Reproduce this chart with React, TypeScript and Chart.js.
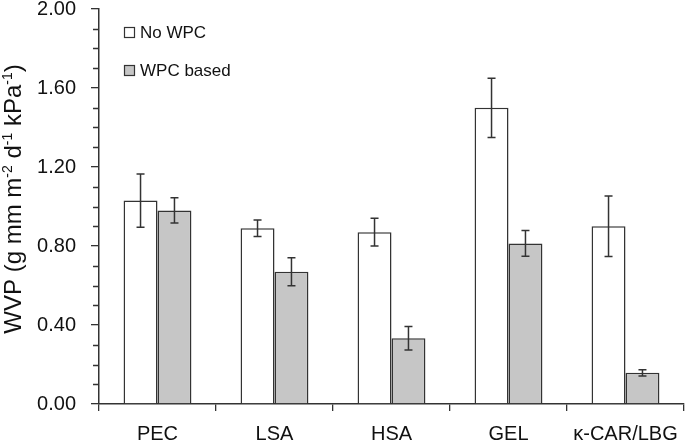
import React, { useEffect, useRef } from 'react';
import { Chart, registerables } from 'chart.js';

Chart.register(...registerables);

const categories = ['PEC', 'LSA', 'HSA', 'GEL', 'κ-CAR/LBG'];
const noWpcValues = [1.03, 0.89, 0.87, 1.5, 0.9];
const noWpcErrors = [0.135, 0.042, 0.07, 0.15, 0.153];
const wpcValues = [0.98, 0.67, 0.333, 0.813, 0.158];
const wpcErrors = [0.064, 0.071, 0.06, 0.065, 0.016];
const seriesNames = ['No WPC', 'WPC based'];
const yMin = 0;
const yMax = 2;
const yMajorStep = 0.4;
const yMinorStep = 0.1;

const FONT = '"Liberation Sans", Arial, Helvetica, sans-serif';
const INK = '#333333';

const errorBarPlugin = {
  id: 'errorBars',
  afterDatasetsDraw(chart: any) {
    const ctx = chart.ctx;
    const ys = chart.scales.y;
    chart.data.datasets.forEach((ds: any, i: number) => {
      const meta = chart.getDatasetMeta(i);
      meta.data.forEach((bar: any, j: number) => {
        const v = ds.data[j];
        const e = ds.errors[j];
        const x = bar.x;
        const yt = ys.getPixelForValue(v + e);
        const yb = ys.getPixelForValue(v - e);
        ctx.save();
        ctx.strokeStyle = INK;
        ctx.lineWidth = 1.5;
        ctx.beginPath();
        ctx.moveTo(x, yt);
        ctx.lineTo(x, yb);
        ctx.moveTo(x - 4, yt);
        ctx.lineTo(x + 4, yt);
        ctx.moveTo(x - 4, yb);
        ctx.lineTo(x + 4, yb);
        ctx.stroke();
        ctx.restore();
      });
    });
  },
};

const minorTickPlugin = {
  id: 'minorTicks',
  afterDraw(chart: any) {
    const ctx = chart.ctx;
    const ys = chart.scales.y;
    const x0 = chart.chartArea.left;
    ctx.save();
    ctx.strokeStyle = INK;
    ctx.lineWidth = 1.3;
    ctx.beginPath();
    const n = Math.round((yMax - yMin) / yMinorStep);
    for (let k = 0; k <= n; k++) {
      const v = yMin + k * yMinorStep;
      if (Math.abs(v / yMajorStep - Math.round(v / yMajorStep)) < 1e-6) continue;
      const y = Math.round(ys.getPixelForValue(v)) + 0.5;
      ctx.moveTo(x0 - 6, y);
      ctx.lineTo(x0, y);
    }
    ctx.stroke();
    ctx.restore();
  },
};

const legendPlugin = {
  id: 'customLegend',
  afterDraw(chart: any) {
    const ctx = chart.ctx;
    const items = chart.data.datasets.map((ds: any) => ({ label: ds.label, fill: ds.backgroundColor }));
    const bx = 124.5;
    const tops = [27.5, 65.5];
    ctx.save();
    ctx.font = `17px ${FONT}`;
    ctx.textBaseline = 'middle';
    items.forEach((it: any, i: number) => {
      ctx.fillStyle = it.fill;
      ctx.fillRect(bx, tops[i], 10, 10);
      ctx.strokeStyle = INK;
      ctx.lineWidth = 1.2;
      ctx.strokeRect(bx, tops[i], 10, 10);
      ctx.fillStyle = '#111';
      ctx.fillText(it.label, 140, tops[i] + 5.5);
    });
    ctx.restore();
  },
};

const yTitlePlugin = {
  id: 'yTitle',
  afterDraw(chart: any) {
    const ctx = chart.ctx;
    const main = 24;
    const sup = 14;
    const parts: [string, boolean][] = [
      ['WVP (g mm m', false],
      ['-2', true],
      [' d', false],
      ['-1', true],
      [' kPa', false],
      ['-1', true],
      [')', false],
    ];
    ctx.save();
    let total = 0;
    parts.forEach(([t, s]) => {
      ctx.font = `${s ? sup : main}px ${FONT}`;
      total += ctx.measureText(t).width;
    });
    const cx = 21;
    const cy = 199;
    ctx.translate(cx, cy);
    ctx.rotate(-Math.PI / 2);
    ctx.fillStyle = '#111';
    ctx.textBaseline = 'alphabetic';
    let x = -total / 2;
    parts.forEach(([t, s]) => {
      ctx.font = `${s ? sup : main}px ${FONT}`;
      ctx.fillText(t, x, s ? -9 : 0);
      x += ctx.measureText(t).width;
    });
    ctx.restore();
  },
};

export default function App() {
  const ref = useRef<HTMLCanvasElement | null>(null);

  useEffect(() => {
    document.body.style.margin = '0';
    const canvas = ref.current;
    if (!canvas) return;
    const chart = new Chart(canvas, {
      type: 'bar',
      data: {
        labels: categories,
        datasets: [
          {
            label: seriesNames[0],
            data: noWpcValues,
            errors: noWpcErrors,
            backgroundColor: '#ffffff',
            borderColor: INK,
            borderWidth: 1.5,
            barPercentage: 1,
            categoryPercentage: 0.58,
          } as any,
          {
            label: seriesNames[1],
            data: wpcValues,
            errors: wpcErrors,
            backgroundColor: '#c6c6c6',
            borderColor: INK,
            borderWidth: 1.5,
            barPercentage: 1,
            categoryPercentage: 0.58,
          } as any,
        ],
      },
      options: {
        animation: false,
        responsive: false,
        maintainAspectRatio: false,
        layout: { padding: { top: 9, right: 1, left: 0, bottom: 0 } },
        plugins: {
          legend: { display: false },
          tooltip: { enabled: false },
          title: { display: false },
        },
        scales: {
          x: {
            offset: true,
            afterFit: (s: any) => {
              s.height = 43;
              s.paddingLeft = 0;
              s.paddingRight = 0;
            },
            grid: {
              offset: true,
              drawOnChartArea: false,
              drawTicks: true,
              tickLength: 7,
              color: INK,
              lineWidth: 1.3,
            },
            border: { display: true, color: INK, width: 1.5 },
            ticks: {
              color: '#111',
              font: { family: FONT, size: 20 },
              padding: 11,
              maxRotation: 0,
              autoSkip: false,
            },
          },
          y: {
            min: yMin,
            max: yMax,
            afterFit: (s: any) => {
              s.width = 99;
              s.paddingTop = 0;
              s.paddingBottom = 0;
            },
            grid: {
              drawOnChartArea: false,
              drawTicks: true,
              tickLength: 8,
              color: INK,
              lineWidth: 1.3,
            },
            border: { display: true, color: INK, width: 1.5 },
            ticks: {
              stepSize: yMajorStep,
              color: '#111',
              font: { family: FONT, size: 20 },
              padding: 15,
              callback: (v: any) => Number(v).toFixed(2),
            },
          },
        },
      },
      plugins: [errorBarPlugin, minorTickPlugin, legendPlugin, yTitlePlugin],
    });
    return () => chart.destroy();
  }, []);

  return (
    <div style={{ width: 685, height: 447 }}>
      <canvas ref={ref} width={685} height={447} style={{ display: 'block' }} />
    </div>
  );
}
